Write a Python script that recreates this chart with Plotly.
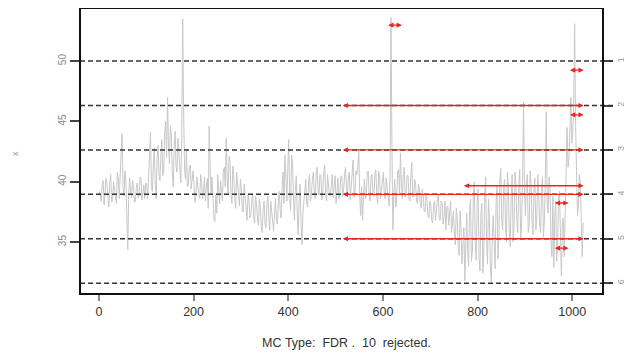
import plotly.graph_objects as go

# ---- data ----
t_a = list(range(1, 1024, 4))
series_a = [
    39.2, 38.4, 40.1, 38.9, 39.8, 37.9, 40.6, 38.6, 39.5, 38.2, 40.3, 41.2, 44.0, 38.8, 40.1, 34.4,
    40.3, 38.7, 39.6, 38.4, 39.9, 38.9, 40.2, 39.0, 38.6, 39.8, 40.4, 44.1, 39.2, 42.8, 38.6, 43.0,
    40.1, 43.5, 41.0, 45.0, 47.0, 41.5, 43.9, 39.6, 44.2, 40.8, 42.5, 39.9, 53.5, 41.0, 42.6, 39.8,
    41.4, 40.2, 39.8, 38.9, 39.6, 38.6, 40.0, 39.1, 38.4, 40.3, 44.6, 39.0, 38.1, 36.7, 37.4, 39.2,
    40.1, 38.4, 41.2, 43.6, 39.0, 41.6, 38.2, 40.5, 37.8, 39.9, 38.0, 39.4, 37.5, 38.9, 36.8, 38.5,
    37.2, 39.0, 36.6, 38.2, 36.4, 37.9, 35.8, 38.4, 36.2, 38.8, 36.0, 37.6, 35.9, 38.6, 36.5, 39.2,
    37.0, 40.8, 42.2, 38.4, 43.5, 37.6, 41.6, 36.8, 40.5, 35.6, 39.8, 34.8, 38.6, 40.2, 37.9, 40.6,
    39.0, 40.8, 38.6, 41.2, 38.9, 40.5, 39.2, 41.4, 38.4, 39.8, 38.8, 40.6, 39.4, 38.2, 40.3, 39.1,
    40.5, 39.3, 41.2, 38.9, 40.8, 39.6, 41.8, 39.0, 40.6, 42.6, 37.2, 36.8, 40.2, 39.0, 40.9, 38.4,
    40.6, 38.8, 41.0, 38.2, 40.4, 39.3, 40.8, 38.6, 39.6, 38.0, 53.6, 36.0, 40.2, 38.5, 41.0, 42.4,
    38.6, 41.2, 39.0, 40.5, 38.4, 41.6, 38.8, 39.8, 38.2, 39.4, 37.8, 38.9, 37.5, 38.6, 37.0, 38.2,
    36.6, 38.4, 37.4, 38.9, 36.8, 38.2, 37.1, 36.0, 38.0, 37.3, 35.8, 37.6, 34.8, 37.0, 33.9, 36.2,
    35.6, 31.8, 37.4, 33.0, 38.6, 34.2, 40.0, 33.5, 39.4, 32.6, 38.2, 34.0, 40.4, 33.2, 36.8, 31.7,
    37.2, 32.8, 39.6, 35.4, 41.1, 36.0, 40.2, 35.0, 39.6, 34.6, 40.6, 36.2, 39.8, 35.8, 41.0, 36.6,
    46.6, 37.2, 40.6, 36.4, 39.8, 35.6, 40.3, 37.0, 39.2, 35.8, 40.4, 36.8, 45.8, 37.4, 39.6, 33.8,
    32.9, 38.4, 34.6, 39.2, 32.2, 37.0, 38.8, 44.5, 42.0, 47.0, 44.0, 53.1, 41.5, 38.0, 39.8, 33.8,
]
t_b = list(range(3, 1025, 4))
series_b = [
    38.6, 39.7, 38.1, 40.3, 38.5, 39.9, 38.3, 40.0, 38.7, 40.8, 38.6, 42.5, 39.5, 40.9, 37.0, 38.9,
    39.2, 40.1, 38.3, 39.5, 38.7, 40.4, 38.5, 39.7, 39.9, 38.6, 41.8, 39.6, 41.5, 39.8, 41.9, 40.6,
    42.2, 40.5, 44.1, 42.0, 43.2, 44.6, 40.8, 42.9, 41.2, 43.6, 40.6, 43.4, 46.0, 40.2, 39.6, 41.2,
    39.4, 40.9, 38.3, 40.4, 39.2, 40.6, 38.6, 40.4, 39.6, 37.8, 41.2, 40.4, 36.9, 38.9, 40.6, 38.2,
    39.2, 40.9, 39.6, 40.3, 42.1, 39.0, 41.3, 38.6, 40.8, 38.4, 40.2, 37.6, 39.8, 37.4, 38.9, 37.0,
    38.4, 37.0, 38.8, 36.9, 38.6, 36.2, 37.8, 36.5, 38.2, 36.9, 38.4, 36.3, 37.4, 36.9, 38.3, 37.6,
    39.6, 38.2, 40.4, 41.0, 38.8, 42.2, 38.9, 39.3, 37.4, 38.4, 36.6, 37.4, 39.6, 38.2, 39.9, 38.4,
    40.2, 39.1, 40.7, 39.3, 40.6, 38.5, 40.8, 39.0, 40.6, 38.9, 40.1, 38.7, 40.5, 39.8, 38.6, 40.4,
    38.8, 40.6, 39.5, 40.5, 38.5, 41.0, 38.7, 40.9, 41.3, 38.9, 39.6, 38.8, 38.6, 40.8, 38.9, 40.4,
    39.0, 40.6, 38.9, 40.9, 38.6, 40.1, 38.9, 40.3, 38.6, 40.6, 43.0, 38.9, 37.9, 40.8, 38.9, 40.0,
    40.6, 38.7, 40.5, 38.6, 40.5, 38.7, 40.2, 38.4, 39.8, 38.2, 39.4, 37.6, 38.9, 37.2, 38.4, 36.8,
    38.0, 36.8, 38.6, 36.9, 38.4, 36.5, 38.4, 37.9, 36.4, 38.4, 36.9, 35.6, 37.8, 34.6, 37.6, 33.2,
    36.2, 35.0, 34.2, 37.6, 33.4, 38.8, 34.8, 38.2, 33.8, 37.4, 32.4, 38.8, 35.0, 38.6, 33.0, 35.4,
    35.0, 38.2, 33.6, 40.2, 36.8, 39.4, 36.4, 40.8, 35.8, 38.8, 35.0, 40.8, 36.6, 39.6, 35.2, 40.0,
    39.4, 39.9, 35.8, 40.9, 36.6, 39.4, 36.0, 40.6, 36.4, 39.2, 35.4, 40.0, 38.2, 40.4, 35.2, 38.8,
    37.0, 33.4, 38.6, 35.8, 36.4, 33.8, 40.6, 41.2, 45.6, 43.2, 46.4, 44.8, 37.2, 40.6, 35.8, 36.6,
]

left_ticks = [35, 40, 45, 50]
level_lines = [31.6, 35.28, 38.96, 42.64, 46.32, 50.0]
level_labels = ["6", "5", "4", "3", "2", "1"]

# rejected intervals: start, end, y
arrow_start = [608, 992, 512, 992, 512, 768, 512, 960, 512, 960]
arrow_end = [640, 1024, 1024, 1024, 1024, 1024, 1024, 992, 1024, 992]
arrow_y = [52.98, 49.25, 46.32, 45.55, 42.64, 39.67, 38.96, 38.24, 35.28, 34.5]

x_ticks = [0, 200, 400, 600, 800, 1000]
sub_text = "MC Type:  FDR .  10  rejected."
y_title = "x"

x_range = [-39.9, 1064.9]
y_range = [30.70, 54.40]

pairs = sorted(zip(t_a + t_b, series_a + series_b))
t_all = [p[0] for p in pairs]
v_all = [p[1] for p in pairs]

fig = go.Figure()
fig.add_trace(go.Scatter(x=t_all, y=v_all, mode="lines",
                         line=dict(color="#c8c8c8", width=1), showlegend=False,
                         hoverinfo="skip"))
# invisible trace for right axis
fig.add_trace(go.Scatter(x=[t_all[0]], y=[v_all[0]], yaxis="y2", mode="markers",
                         marker=dict(opacity=0), showlegend=False, hoverinfo="skip"))

for yv in level_lines:
    fig.add_shape(type="line", xref="paper", x0=0, x1=1.02, yref="y", y0=yv, y1=yv,
                  line=dict(color="#333333", width=1.5, dash="5px,3px"), layer="above")

for s, e, yv in zip(arrow_start, arrow_end, arrow_y):
    fig.add_annotation(x=e, y=yv, ax=s, ay=yv, xref="x", yref="y", axref="x", ayref="y",
                       text="", showarrow=True, arrowhead=2, arrowside="end+start",
                       arrowsize=0.8, arrowwidth=1.3, arrowcolor="#e8261e", standoff=0,
                       startstandoff=0, startarrowhead=2, startarrowsize=0.8)

# frame
fig.add_shape(type="rect", xref="paper", yref="paper", x0=0, x1=1, y0=0, y1=1,
              line=dict(color="#111111", width=2), layer="above")

fig.add_annotation(text=sub_text.replace(" ", "\u00a0"), xref="paper", yref="paper",
                   x=0.51, y=-0.171, yanchor="middle", showarrow=False,
                   font=dict(family="Liberation Sans, Arial", size=12.5, color="#333333"))
fig.add_annotation(text=y_title, xref="paper", yref="paper", x=-0.124, y=0.49,
                   xanchor="center", yanchor="middle", showarrow=False, textangle=-90,
                   font=dict(family="Liberation Sans, Arial", size=9, color="#999999"))

fig.update_layout(
    width=624, height=347,
    margin=dict(l=72, r=29, t=0, b=61),
    paper_bgcolor="white", plot_bgcolor="white",
    font=dict(family="Liberation Sans, Arial", color="#333333"),
    xaxis=dict(range=x_range, tickvals=x_ticks, showgrid=False, zeroline=False,
               ticks="outside", ticklen=6, tickcolor="#888888", tickwidth=1.5,
               tickfont=dict(size=12.5, color="#333333"), showline=False, automargin=False),
    yaxis=dict(range=y_range, tickvals=left_ticks, showgrid=False, zeroline=False,
               ticks="outside", ticklen=9, tickcolor="#444444", tickwidth=1.5,
               tickangle=-90, tickfont=dict(size=10, color="#888888"),
               showline=False, automargin=False),
    yaxis2=dict(range=y_range, overlaying="y", side="right", tickvals=level_lines,
                ticktext=level_labels, showgrid=False, zeroline=False,
                ticks="outside", ticklen=9, tickcolor="#444444", tickwidth=1.5,
                tickangle=-90, tickfont=dict(size=9, color="#999999"), showline=False,
                automargin=False),
)

fig.write_html("out.html")
